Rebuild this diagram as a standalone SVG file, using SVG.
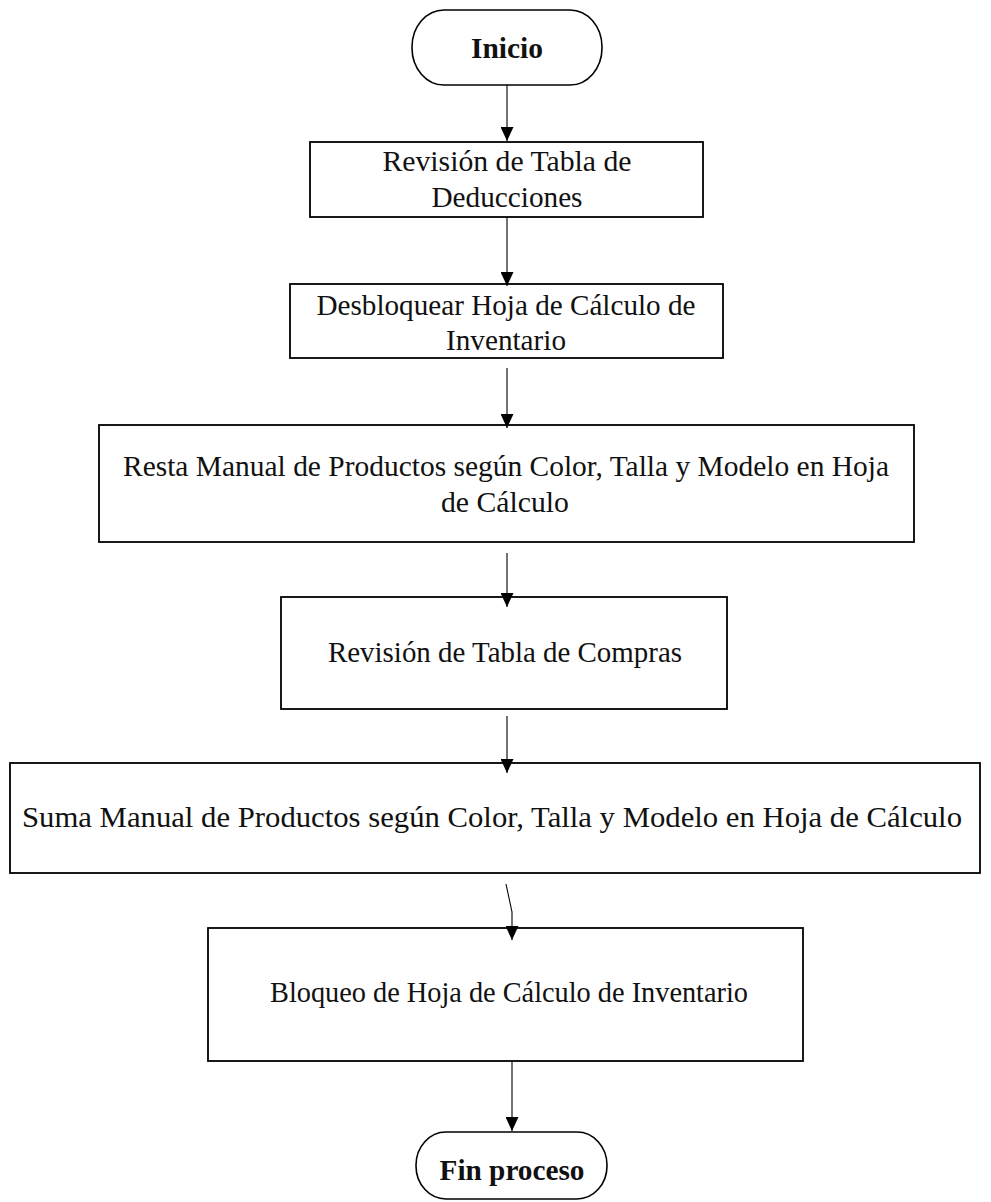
<svg xmlns="http://www.w3.org/2000/svg" width="991" height="1202" viewBox="0 0 991 1202">
  <style>
    .box { fill: #ffffff; stroke: #000000; stroke-width: 1.8; }
    .term { fill: #ffffff; stroke: #000000; stroke-width: 1.6; }
    .lbl { font-family: "Liberation Serif", "Times New Roman", serif; font-size: 29.5px; fill: #111111; text-anchor: middle; }
    .bold { font-weight: bold; }
    .conn { fill: none; stroke: #000000; stroke-width: 1.1; }
  </style>
  <defs>
    <marker id="arrow" markerWidth="14" markerHeight="13" refX="14" refY="6.5" orient="auto" markerUnits="userSpaceOnUse">
      <path d="M0,0 L14,6.5 L0,13 Z" fill="#000000"/>
    </marker>
  </defs>

  <rect width="991" height="1202" fill="#ffffff"/>

  <g id="inicio">
    <rect class="term" x="412" y="10" width="190" height="75" rx="32" ry="37"/>
    <text class="lbl bold" x="507" y="58" textLength="72" lengthAdjust="spacingAndGlyphs">Inicio</text>
  </g>

  <g id="revision-deducciones">
    <rect class="box" x="310" y="142" width="393" height="75"/>
    <text class="lbl" x="507" y="171" textLength="249" lengthAdjust="spacingAndGlyphs">Revisión de Tabla de</text>
    <text class="lbl" x="507" y="207" textLength="151" lengthAdjust="spacingAndGlyphs">Deducciones</text>
  </g>

  <g id="desbloquear">
    <rect class="box" x="290" y="284" width="433" height="74"/>
    <text class="lbl" x="506" y="315" textLength="379" lengthAdjust="spacingAndGlyphs">Desbloquear Hoja de Cálculo de</text>
    <text class="lbl" x="506" y="350" textLength="120" lengthAdjust="spacingAndGlyphs">Inventario</text>
  </g>

  <g id="resta-manual">
    <rect class="box" x="99" y="425" width="815" height="117"/>
    <text class="lbl" x="506" y="476" textLength="766" lengthAdjust="spacingAndGlyphs">Resta Manual de Productos según Color, Talla y Modelo en Hoja</text>
    <text class="lbl" x="505" y="512" textLength="128" lengthAdjust="spacingAndGlyphs">de Cálculo</text>
  </g>

  <g id="revision-compras">
    <rect class="box" x="281" y="597" width="446" height="112"/>
    <text class="lbl" x="505" y="662" textLength="354" lengthAdjust="spacingAndGlyphs">Revisión de Tabla de Compras</text>
  </g>

  <g id="suma-manual">
    <rect class="box" x="10" y="763" width="970" height="110"/>
    <text class="lbl" x="492" y="827" textLength="940" lengthAdjust="spacingAndGlyphs">Suma Manual de Productos según Color, Talla y Modelo en Hoja de Cálculo</text>
  </g>

  <g id="bloqueo">
    <rect class="box" x="208" y="928" width="595" height="133"/>
    <text class="lbl" x="509" y="1002" textLength="478" lengthAdjust="spacingAndGlyphs">Bloqueo de Hoja de Cálculo de Inventario</text>
  </g>

  <g id="fin-proceso">
    <rect class="term" x="416" y="1132" width="191" height="67" rx="30" ry="33"/>
    <text class="lbl bold" x="512" y="1180" textLength="145" lengthAdjust="spacingAndGlyphs">Fin proceso</text>
  </g>

  <!-- connectors are drawn last so arrowheads sit on top of the box edges -->
  <g id="connectors">
    <line class="conn" x1="507" y1="85" x2="507" y2="141" marker-end="url(#arrow)"/>
    <line class="conn" x1="507" y1="217" x2="507" y2="286" marker-end="url(#arrow)"/>
    <line class="conn" x1="507" y1="368" x2="507" y2="428" marker-end="url(#arrow)"/>
    <line class="conn" x1="507" y1="553" x2="507" y2="607" marker-end="url(#arrow)"/>
    <line class="conn" x1="507" y1="716" x2="507" y2="773" marker-end="url(#arrow)"/>
    <polyline class="conn" points="506,884 512,912 512,940" marker-end="url(#arrow)"/>
    <line class="conn" x1="512" y1="1061" x2="512" y2="1131" marker-end="url(#arrow)"/>
  </g>
</svg>
